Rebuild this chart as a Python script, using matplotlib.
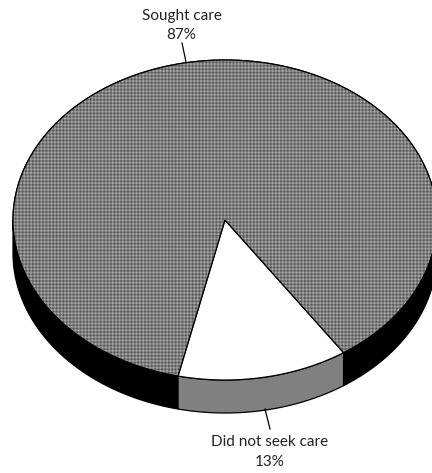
import numpy as np
import matplotlib
matplotlib.use("Agg")
import matplotlib.pyplot as plt
from matplotlib.patches import Polygon

labels = ["Sought care", "Did not seek care"]
values = [87, 13]
top_colors = ["#808080", "white"]
wall_colors = ["black", "#808080"]

W, H = 432, 473
cx, cy = 225, 220
rx, ry = 212, 160
depth = 33
start = -102.8  # where the small slice begins, degrees


def rim(a0, a1, drop=0):
    t = np.radians(np.linspace(a0, a1, 300))
    return np.column_stack([cx + rx * np.cos(t), cy - ry * np.sin(t) + drop])


def wall(a0, a1):
    # only the front half of the rim has a visible side
    a0, a1 = max(a0, -180), min(a1, 0)
    if a1 <= a0:
        return None
    return np.vstack([rim(a0, a1), rim(a1, a0, depth)])


fig = plt.figure(figsize=(W / 100, H / 100), dpi=100)
ax = fig.add_axes([0, 0, 1, 1])
ax.set_xlim(0, W)
ax.set_ylim(H, 0)
ax.axis("off")

small = 360 * values[1] / sum(values)
big = 360 * values[0] / sum(values)
arcs = [(start + small, start + small + big), (start, start + small)]

# side walls first, the top faces go over them
for (a0, a1), col in zip(arcs, wall_colors):
    for shift in (0, -360):
        pts = wall(a0 + shift, a1 + shift)
        if pts is not None:
            ax.add_patch(Polygon(pts, closed=True, fc=col, ec="black", lw=0.9, zorder=1))

for (a0, a1), col in zip(arcs, top_colors):
    pts = np.vstack([[cx, cy], rim(a0, a1)])
    patch = Polygon(pts, closed=True, fc=col, ec="black", lw=0.9, zorder=2)
    ax.add_patch(patch)
    if col != "white":
        # woven screen on the larger slice
        yy, xx = np.mgrid[0:H, 0:W]
        wave_x = np.cos(2 * np.pi * xx / 3.4)
        wave_y = np.cos(2 * np.pi * yy / 3.4)
        tex = 0.5 + 0.09 * wave_x + 0.09 * wave_y
        im = ax.imshow(tex, cmap="gray", vmin=0, vmax=1, extent=(0, W, H, 0),
                       interpolation="nearest", zorder=2.5, aspect="auto")
        im.set_clip_path(patch)
        ax.add_patch(Polygon(pts, closed=True, fc="none", ec="black", lw=0.9, zorder=3))

# leader lines
ax.plot([182, 186], [43, 62], color="black", lw=0.9, zorder=4)
ax.plot([265, 270], [409, 429], color="black", lw=0.9, zorder=4)

font = dict(family="Lato", fontsize=11, color="#222222", ha="center", va="center")
ax.text(182, 16, labels[0], **font)
ax.text(181, 35, f"{values[0]}%", **font)
ax.text(270, 442, labels[1], **font)
ax.text(270, 462, f"{values[1]}%", **font)

fig.savefig("out.png", dpi=100)
